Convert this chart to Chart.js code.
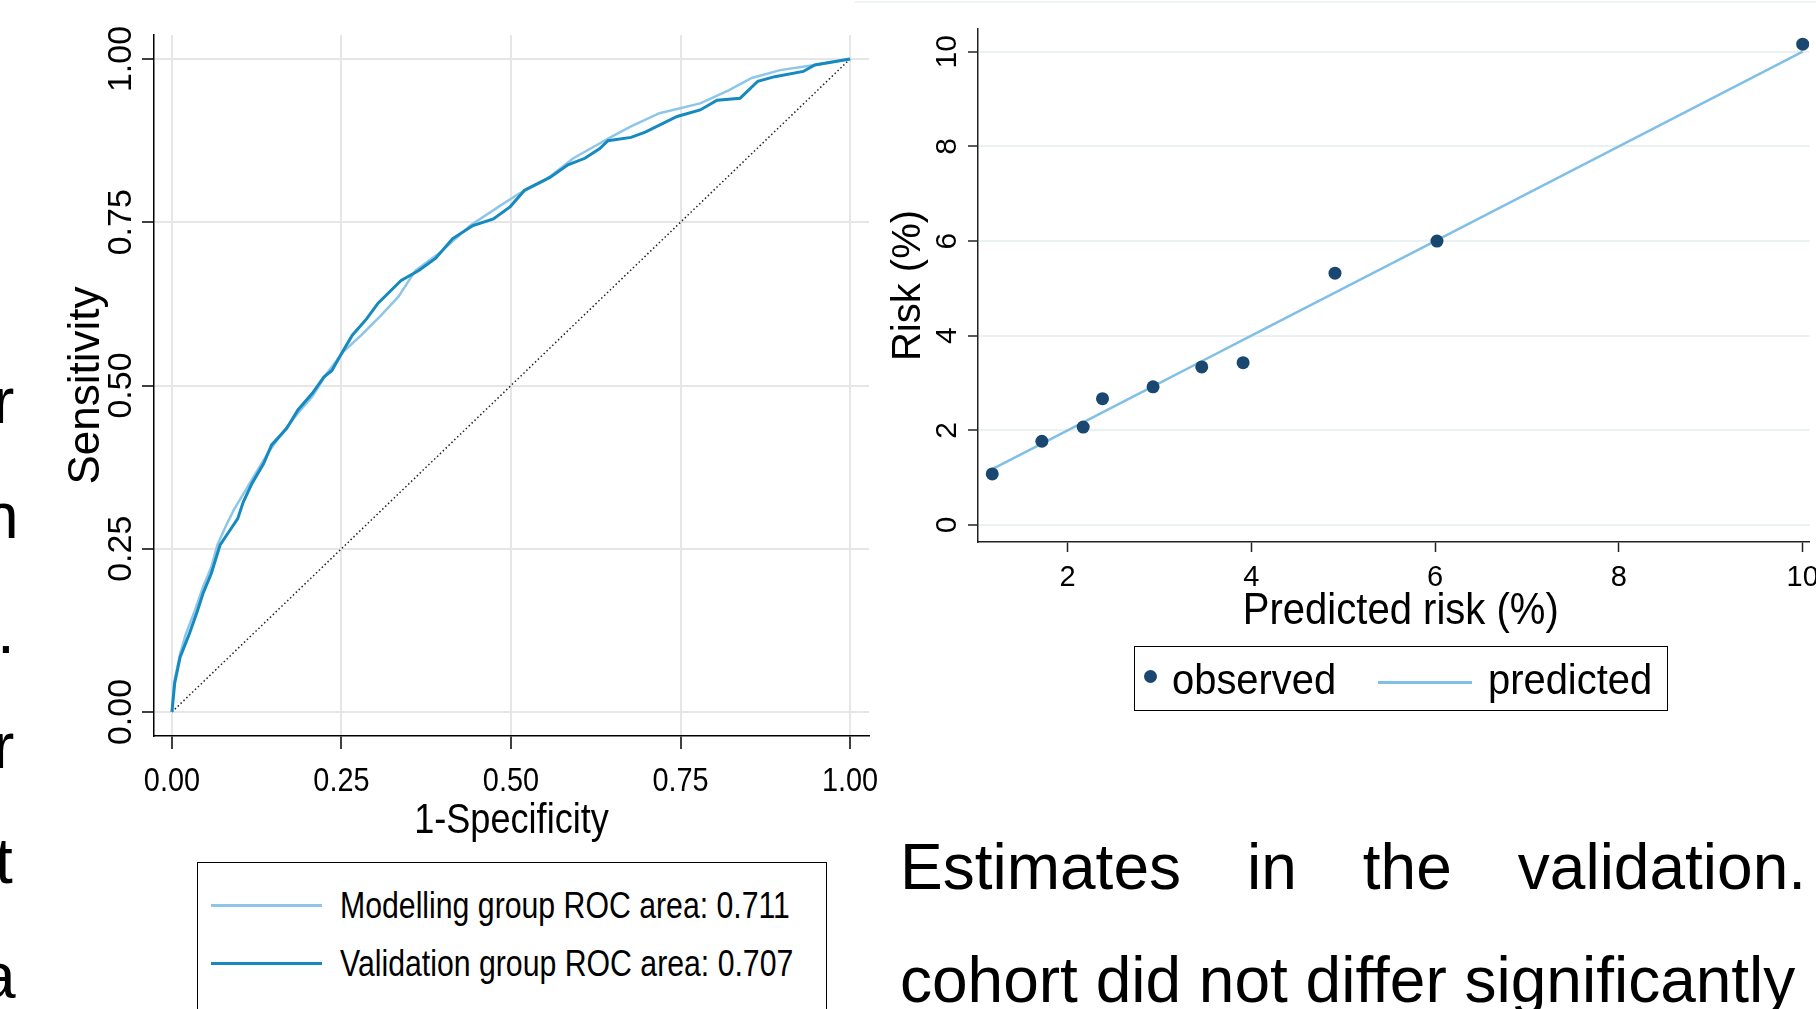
<!DOCTYPE html>
<html>
<head>
<meta charset="utf-8">
<title>ROC curves and calibration plot</title>
<script src="https://cdn.jsdelivr.net/npm/chart.js@4.4.1/dist/chart.umd.min.js"></script>
<style>
  body { margin: 0; width: 1816px; height: 1009px; overflow: hidden; background: #fff; position: relative;
         font-family: "Liberation Sans", Arial, sans-serif; color: #000; }
  canvas { position: absolute; }
  .abs { position: absolute; white-space: nowrap; }
  .frag { position: absolute; font-size: 64px; line-height: 64px; }
  .para { position: absolute; font-size: 64px; line-height: 64px; white-space: nowrap; }
  .box { position: absolute; border: 1.5px solid #000; box-sizing: border-box; }
  .swatch { position: absolute; }
  .ltext { position: absolute; white-space: nowrap; transform-origin: left center; }
</style>
</head>
<body>
<canvas id="rocChart" width="880" height="860" style="left:0;top:0"></canvas>
<canvas id="calChart" width="966" height="740" style="left:850px;top:0"></canvas>
<div class="abs" style="left:855px;top:1px;width:961px;height:2px;background:#eef3f4"></div>
<div id="rocLegend"></div>
<div id="calLegend"></div>
<div id="frags"></div>
<div class="para" id="para1" style="left:900px;top:835px;width:906px;text-align:justify;text-align-last:justify;white-space:normal">Estimates in the validation.</div>
<div class="para" id="para2" style="left:900px;top:948px">cohort did not differ significantly</div>
<script>
// ROC curves (1-specificity, sensitivity)
const rocTicks = [0, 0.25, 0.5, 0.75, 1];
const rocTickLabels = ['0.00', '0.25', '0.50', '0.75', '1.00'];
const modelFpr = [0, 0.003, 0.012, 0.020, 0.033, 0.046, 0.058, 0.067, 0.080, 0.092, 0.109, 0.126, 0.143, 0.164,
  0.186, 0.207, 0.228, 0.253, 0.279, 0.308, 0.334, 0.359, 0.397, 0.440, 0.482, 0.512, 0.550, 0.592, 0.626,
  0.652, 0.677, 0.719, 0.779, 0.821, 0.855, 0.897, 0.948, 1];
const modelTpr = [0, 0.044, 0.089, 0.118, 0.153, 0.192, 0.222, 0.256, 0.286, 0.311, 0.340, 0.370, 0.399, 0.429,
  0.458, 0.483, 0.518, 0.552, 0.577, 0.607, 0.636, 0.676, 0.705, 0.745, 0.774, 0.794, 0.814, 0.848, 0.868,
  0.883, 0.897, 0.917, 0.932, 0.952, 0.971, 0.983, 0.991, 1];
const validFpr = [0, 0.004, 0.012, 0.025, 0.037, 0.046, 0.058, 0.071, 0.084, 0.097, 0.105, 0.118, 0.135, 0.147,
  0.169, 0.186, 0.207, 0.224, 0.236, 0.249, 0.266, 0.287, 0.304, 0.338, 0.364, 0.389, 0.414, 0.444, 0.474,
  0.499, 0.520, 0.558, 0.584, 0.609, 0.631, 0.643, 0.677, 0.698, 0.745, 0.779, 0.804, 0.838, 0.864, 0.889,
  0.931, 0.948, 1];
const validTpr = [0, 0.044, 0.084, 0.118, 0.153, 0.182, 0.212, 0.256, 0.276, 0.296, 0.321, 0.350, 0.380, 0.409,
  0.434, 0.463, 0.488, 0.513, 0.523, 0.547, 0.577, 0.602, 0.626, 0.661, 0.676, 0.695, 0.725, 0.745, 0.755,
  0.774, 0.799, 0.819, 0.838, 0.848, 0.863, 0.875, 0.880, 0.888, 0.912, 0.922, 0.937, 0.940, 0.966, 0.973,
  0.981, 0.991, 1];
const refFpr = [0, 1];
const refTpr = [0, 1];
const rocLabels = ['Modelling group ROC area: 0.711', 'Validation group ROC area: 0.707'];
const rocColors = ['#8ec6ea', '#1689bf'];

// calibration plot (%)
const riskTicksX = [2, 4, 6, 8, 10];
const riskTicksY = [0, 2, 4, 6, 8, 10];
const predictedRisk = [1.18, 1.72, 2.17, 2.38, 2.93, 3.46, 3.91, 4.91, 6.02, 10.0];
const observedRisk = [1.08, 1.77, 2.07, 2.67, 2.92, 3.34, 3.43, 5.32, 6.00, 10.16];
const calLabels = ['observed', 'predicted'];
const calColors = ['#1a476f', '#80bfe6'];

const pts = (xs, ys) => xs.map((x, i) => ({ x: x, y: ys[i] }));

function putText(ctx, str, x, y, size, opt) {
  opt = opt || {};
  ctx.save();
  ctx.translate(x, y);
  if (opt.rotate) ctx.rotate(-Math.PI / 2);
  ctx.scale(opt.sx || 1, 1);
  ctx.font = size + 'px "Liberation Sans", Arial, sans-serif';
  ctx.fillStyle = '#000';
  ctx.textAlign = 'center';
  ctx.textBaseline = 'alphabetic';
  ctx.fillText(str, 0, 0);
  ctx.restore();
}

const rocText = {
  id: 'rocText',
  afterDraw(chart) {
    const ctx = chart.ctx, xs = chart.scales.x, ys = chart.scales.y, a = chart.chartArea;
    rocTicks.forEach((v, i) => {
      putText(ctx, rocTickLabels[i], xs.getPixelForValue(v), 791, 34, { sx: 0.85 });
      putText(ctx, rocTickLabels[i], 131, ys.getPixelForValue(v), 34, { rotate: true });
    });
    putText(ctx, '1-Specificity', (a.left + a.right) / 2, 833, 43, { sx: 0.84 });
    putText(ctx, 'Sensitivity', 99, (a.top + a.bottom) / 2, 44, { rotate: true });
  }
};

const calText = {
  id: 'calText',
  afterDraw(chart) {
    const ctx = chart.ctx, xs = chart.scales.x, ys = chart.scales.y, a = chart.chartArea;
    riskTicksX.forEach(v => putText(ctx, String(v), xs.getPixelForValue(v), 586, 29));
    riskTicksY.forEach(v => putText(ctx, String(v), 106, ys.getPixelForValue(v), 30, { rotate: true }));
    putText(ctx, 'Predicted risk (%)', (a.left + a.right) / 2 + 7, 624, 44, { sx: 0.91 });
    putText(ctx, 'Risk (%)', 70, (a.top + a.bottom) / 2, 40, { rotate: true });
  }
};

new Chart(document.getElementById('rocChart'), {
  type: 'line',
  data: {
    datasets: [
      { label: 'reference', data: pts(refFpr, refTpr), borderColor: '#222', borderWidth: 1.5,
        borderDash: [1.5, 2.5], pointRadius: 0, order: 3 },
      { label: rocLabels[0], data: pts(modelFpr, modelTpr), borderColor: rocColors[0], borderWidth: 2.5,
        pointRadius: 0, tension: 0, order: 2 },
      { label: rocLabels[1], data: pts(validFpr, validTpr), borderColor: rocColors[1], borderWidth: 3,
        pointRadius: 0, tension: 0, order: 1 },
    ],
  },
  options: {
    responsive: false,
    animation: false,
    events: [],
    layout: { padding: { left: 0, top: 35, right: 11, bottom: 0 } },
    plugins: { legend: { display: false }, tooltip: { enabled: false } },
    scales: {
      x: {
        type: 'linear', min: -0.0265, max: 1.028,
        afterBuildTicks: s => { s.ticks = rocTicks.map(v => ({ value: v })); },
        afterFit: s => { s.height = 124; },
        ticks: { display: false },
        grid: { color: '#e6e6e6', lineWidth: 2, tickLength: 13, tickColor: '#000', tickWidth: 1.5 },
        border: { display: true, color: '#000', width: 1.5 },
      },
      y: {
        type: 'linear', min: -0.0368, max: 1.0368,
        afterBuildTicks: s => { s.ticks = rocTicks.map(v => ({ value: v })); },
        afterFit: s => { s.width = 154; },
        ticks: { display: false },
        grid: { color: '#e6e6e6', lineWidth: 2, tickLength: 12, tickColor: '#000', tickWidth: 1.5 },
        border: { display: true, color: '#000', width: 1.5 },
      },
    },
  },
  plugins: [rocText],
});

new Chart(document.getElementById('calChart'), {
  type: 'scatter',
  data: {
    datasets: [
      { label: calLabels[0], data: pts(predictedRisk, observedRisk), backgroundColor: calColors[0],
        borderWidth: 0, pointRadius: 6.5, order: 1 },
      { label: calLabels[1], data: pts(predictedRisk, predictedRisk), showLine: true, borderColor: calColors[1],
        borderWidth: 2.5, pointRadius: 0, order: 2 },
    ],
  },
  options: {
    responsive: false,
    animation: false,
    events: [],
    layout: { padding: { left: 0, top: 29, right: 0, bottom: 0 } },
    plugins: { legend: { display: false }, tooltip: { enabled: false } },
    scales: {
      x: {
        type: 'linear', min: 1.025, max: 10.074,
        afterBuildTicks: s => { s.ticks = riskTicksX.map(v => ({ value: v })); },
        afterFit: s => { s.height = 198; },
        ticks: { display: false },
        grid: { drawOnChartArea: false, tickLength: 10, tickColor: '#222', tickWidth: 1.5 },
        border: { display: true, color: '#222', width: 1.5 },
      },
      y: {
        type: 'linear', min: -0.359, max: 10.48,
        afterBuildTicks: s => { s.ticks = riskTicksY.map(v => ({ value: v })); },
        afterFit: s => { s.width = 128; },
        ticks: { display: false },
        grid: { color: '#e9f1f3', lineWidth: 2, tickLength: 10, tickColor: '#222', tickWidth: 1.5 },
        border: { display: true, color: '#222', width: 1.5 },
      },
    },
  },
  plugins: [calText],
});

// legends
const rocLegend = document.getElementById('rocLegend');
rocLegend.innerHTML = '<div class="box" style="left:197px;top:862px;width:630px;height:200px"></div>' +
  rocLabels.map((lab, i) => {
    const y = 905.5 + i * 58;
    return '<div class="swatch" style="left:211px;top:' + (y - 1.5) + 'px;width:111px;height:3px;background:' + rocColors[i] + '"></div>' +
      '<div class="ltext" style="left:340px;top:' + (y - 18) + 'px;font-size:36px;line-height:36px;transform:scaleX(0.84)">' + lab + '</div>';
  }).join('');

const calLegend = document.getElementById('calLegend');
calLegend.innerHTML = '<div class="box" style="left:1134px;top:646px;width:534px;height:65px"></div>' +
  '<div class="swatch" style="left:1144px;top:670px;width:13px;height:13px;border-radius:50%;background:' + calColors[0] + '"></div>' +
  '<div class="ltext" style="left:1172px;top:659px;font-size:42px;line-height:42px;transform:scaleX(0.95)">' + calLabels[0] + '</div>' +
  '<div class="swatch" style="left:1378px;top:681px;width:94px;height:2.5px;background:' + calColors[1] + '"></div>' +
  '<div class="ltext" style="left:1488px;top:659px;font-size:42px;line-height:42px;transform:scaleX(0.95)">' + calLabels[1] + '</div>';

// clipped ends of the neighbouring text column
const fragChars = ['r', 'n', '.', 'r', 't', 'a'];
const fragLeft = [-7, -17, -3, -7, -5, -20];
document.getElementById('frags').innerHTML = fragChars.map((c, i) =>
  '<div class="frag" style="left:' + fragLeft[i] + 'px;top:' + (423 + i * 115 - 54) + 'px">' + c + '</div>').join('');
</script>
</body>
</html>
